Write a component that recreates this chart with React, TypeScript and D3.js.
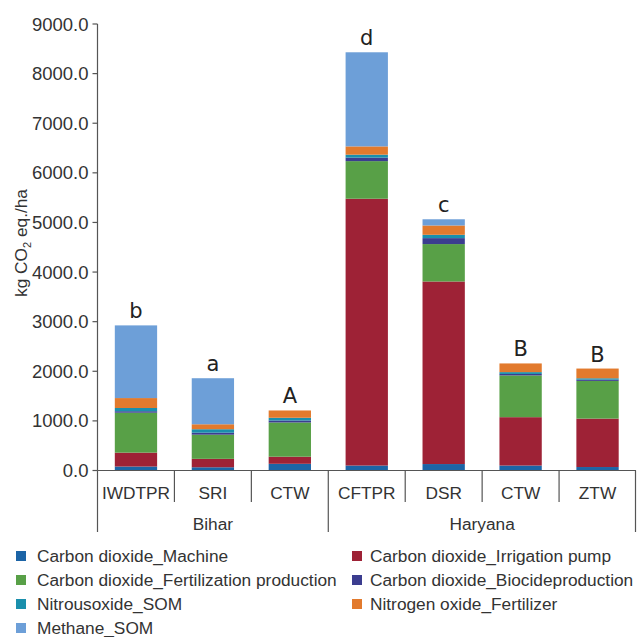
import React from 'react';
import * as d3 from 'd3';

const categories = ['IWDTPR', 'SRI', 'CTW', 'CFTPR', 'DSR', 'CTW', 'ZTW'];
const regionNames = ['Bihar', 'Haryana'];
const regionOf = ['Bihar', 'Bihar', 'Bihar', 'Haryana', 'Haryana', 'Haryana', 'Haryana'];
const letters = ['b', 'a', 'A', 'd', 'c', 'B', 'B'];

// stacked from bottom to top
const co2Machine = [80, 65, 135, 100, 130, 100, 70];
const co2Irrigation = [280, 170, 143, 5378, 3680, 975, 976];
const co2Fertilization = [805, 487, 690, 758, 754, 841, 760];
const co2Biocide = [30, 40, 40, 70, 120, 30, 25];
const n2oSom = [65, 70, 55, 60, 67, 37, 28];
const noxFertilizer = [200, 100, 147, 167, 188, 175, 196];
const ch4Som = [1465, 928, 0, 1897, 125, 0, 0];

const seriesNames = [
  'Carbon dioxide_Machine',
  'Carbon dioxide_Irrigation pump',
  'Carbon dioxide_Fertilization production',
  'Carbon dioxide_Biocideproduction',
  'Nitrousoxide_SOM',
  'Nitrogen oxide_Fertilizer',
  'Methane_SOM',
];
const seriesValues = [co2Machine, co2Irrigation, co2Fertilization, co2Biocide, n2oSom, noxFertilizer, ch4Som];
const colors = ['#1c64a6', '#9e2236', '#58a047', '#3b3d8f', '#1a8fac', '#e27a2d', '#6d9fd8'];

const yTicks = [0, 1000, 2000, 3000, 4000, 5000, 6000, 7000, 8000, 9000];

const W = 637;
const H = 637;
const FONT = '"Liberation Sans", Arial, sans-serif';

export default function App() {
  const left = 97.5;
  const right = 636;
  const y0 = 470.5;

  const table = categories.map((c, i) => {
    const row: any = { idx: String(i) };
    seriesNames.forEach((s, k) => (row[s] = seriesValues[k][i]));
    return row;
  });
  const stacked = d3.stack<any>().keys(seriesNames)(table);

  const x = d3
    .scaleBand()
    .domain(categories.map((c, i) => String(i)))
    .range([left, right])
    .paddingInner(0.45)
    .paddingOuter(0.225);
  const y = d3.scaleLinear().domain([0, 9000]).range([y0, 24]);

  const step = x.step();
  // left edge of category i (i == categories.length gives the right end)
  const edge = (i: number) => (i >= categories.length ? right : x(String(i))! - (step * 0.45) / 2);

  const regionStarts = regionNames.map(r => regionOf.indexOf(r));
  const regionEnds = regionNames.map(r => regionOf.lastIndexOf(r) + 1);

  const totals = categories.map((c, i) => d3.sum(seriesValues, s => s[i]));

  return (
    <svg width={W} height={H} style={{ position: 'absolute', left: 0, top: 0, background: '#fff' }} fontFamily={FONT}>
      {/* bars */}
      {stacked.map((layer, k) => (
        <g key={layer.key} fill={colors[k]}>
          {layer.map((d, i) =>
            d[1] - d[0] > 0 ? (
              <rect
                key={i}
                x={x(String(i))}
                width={x.bandwidth()}
                y={y(d[1])}
                height={y(d[0]) - y(d[1])}
              />
            ) : null,
          )}
        </g>
      ))}

      {/* significance letters */}
      {letters.map((l, i) => (
        <text
          key={'l' + i}
          x={x(String(i))! + x.bandwidth() / 2}
          y={y(totals[i]) - 7}
          textAnchor="middle"
          fontSize={21}
          fontFamily='"DejaVu Sans", sans-serif'
          fill="#222"
        >
          {l}
        </text>
      ))}

      {/* y axis */}
      <line x1={left} x2={left} y1={y(9000)} y2={y0} stroke="#555" strokeWidth={1.2} />
      {yTicks.map(t => (
        <g key={t}>
          <line x1={left - 5} x2={left} y1={y(t)} y2={y(t)} stroke="#555" strokeWidth={1.2} />
          <text x={left - 9} y={y(t) + 6.5} textAnchor="end" fontSize={18.5} fill="#333">
            {d3.format('.1f')(t)}
          </text>
        </g>
      ))}
      <text transform={`translate(27,243) rotate(-90)`} textAnchor="middle" fontSize={17.3} fill="#333">
        kg CO<tspan fontSize={11} dy={4}>2</tspan>
        <tspan dy={-4}> eq./ha</tspan>
      </text>

      {/* x axis */}
      <line x1={left} x2={right} y1={y0} y2={y0} stroke="#555" strokeWidth={1.2} />
      {categories.map((c, i) => (
        <g key={'c' + i}>
          {i > 0 && !regionStarts.includes(i) ? (
            <line x1={edge(i)} x2={edge(i)} y1={y0} y2={502} stroke="#555" strokeWidth={1.2} />
          ) : null}
          <text x={x(String(i))! + x.bandwidth() / 2} y={499} textAnchor="middle" fontSize={17.3} fill="#333">
            {c}
          </text>
        </g>
      ))}
      {regionNames.map((r, j) => (
        <g key={r}>
          <line x1={edge(regionStarts[j])} x2={edge(regionStarts[j])} y1={y0} y2={532} stroke="#555" strokeWidth={1.2} />
          <text
            x={(edge(regionStarts[j]) + edge(regionEnds[j])) / 2}
            y={530}
            textAnchor="middle"
            fontSize={17.3}
            fill="#333"
          >
            {r}
          </text>
        </g>
      ))}
      <line x1={right - 0.5} x2={right - 0.5} y1={y0} y2={532} stroke="#555" strokeWidth={1.2} />

      {/* legend */}
      {seriesNames.map((s, k) => {
        const col = k % 2;
        const row = Math.floor(k / 2);
        const lx = col === 0 ? 16 : 352;
        const ly = 556 + row * 24;
        return (
          <g key={s}>
            <rect x={lx} y={ly - 5} width={10} height={10} fill={colors[k]} />
            <text x={lx + (col === 0 ? 21 : 18)} y={ly + 6} fontSize={17.3} fill="#333">
              {s}
            </text>
          </g>
        );
      })}
    </svg>
  );
}
